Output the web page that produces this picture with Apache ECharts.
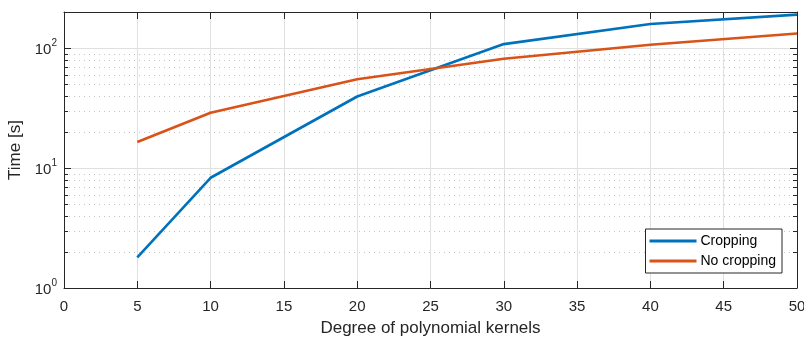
<!DOCTYPE html>
<html><head><meta charset="utf-8">
<script src="https://cdn.jsdelivr.net/npm/echarts@6/dist/echarts.min.js"></script>
<style>html,body{margin:0;padding:0;background:#fff}#c{width:804px;height:339px}</style>
</head><body><div id="c"></div>
<script>
var degrees = [5, 10, 20, 30, 40, 50];
var cropping = [1.8, 8.3, 39.5, 108, 159, 190];
var noCropping = [16.5, 28.9, 55, 81.5, 106.5, 132.5];
var minorValues = [2,3,4,5,6,7,8,9,20,30,40,50,60,70,80,90];
var xTicks = [0,5,10,15,20,25,30,35,40,45,50];

var FONT = '"Liberation Sans", Arial, sans-serif';
var TXT = '#262626';
var chart = echarts.init(document.getElementById('c'), null, {renderer:'canvas'});

function pairs(xs, ys){ return xs.map(function(x,i){return [x, ys[i]];}); }

var supLabel = {
  formatter: function(v){
    var e = Math.round(Math.log10(v));
    if (Math.abs(Math.pow(10,e) - v) > 1e-6) return '';
    return '{b|10}{s|' + e + '}';
  },
  rich: {
    b: {fontSize: 15, fontFamily: FONT, color: TXT, verticalAlign:'bottom'},
    s: {fontSize: 10, fontFamily: FONT, color: TXT, verticalAlign:'top', padding:[0,0,9,0]}
  },
  margin: 7
};

var option = {
  animation: false,
  backgroundColor: '#fff',
  grid: {left: 64, right: 7, top: 12, bottom: 51, containLabel: false, outerBoundsMode: 'none'},
  xAxis: [{
    type: 'value', min: 0, max: 50, interval: 5, position: 'bottom',
    name: 'Degree of polynomial kernels', nameLocation: 'middle', nameGap: 32,
    nameTextStyle: {fontSize: 17, fontFamily: FONT, color: TXT},
    axisLine: {show: true, onZero: false, lineStyle: {color: TXT, width: 1}},
    axisTick: {show: true, inside: true, length: 7, lineStyle: {color: TXT}},
    axisLabel: {fontSize: 15, fontFamily: FONT, color: TXT, margin: 11, hideOverlap: false},
    splitLine: {show: true, lineStyle: {color: '#e0e0e0', width: 1}}
  },{
    type: 'value', min: 0, max: 50, interval: 5, position: 'top',
    axisLine: {show: true, onZero: false, lineStyle: {color: TXT, width: 1}},
    axisTick: {show: true, inside: true, length: 7, lineStyle: {color: TXT}},
    axisLabel: {show: false}, splitLine: {show: false}
  }],
  yAxis: [{
    type: 'log', logBase: 10, min: 1, max: 200, position: 'left',
    name: 'Time [s]', nameLocation: 'middle', nameGap: 35, nameRotate: 90,
    nameTextStyle: {fontSize: 17, fontFamily: FONT, color: TXT},
    axisLine: {show: true, onZero: false, lineStyle: {color: TXT, width: 1}},
    axisTick: {show: true, inside: true, length: 7, lineStyle: {color: TXT}},
    axisLabel: supLabel,
    splitLine: {show: true, lineStyle: {color: '#e0e0e0', width: 1}}
  },{
    type: 'log', logBase: 10, min: 1, max: 200, position: 'right',
    axisLine: {show: true, onZero: false, lineStyle: {color: TXT, width: 1}},
    axisTick: {show: true, inside: true, length: 7, lineStyle: {color: TXT}},
    axisLabel: {show: false}, splitLine: {show: false}
  }],
  legend: {
    right: 22, top: 229, orient: 'vertical', icon: 'rect',
    backgroundColor: '#fff', borderColor: TXT, borderWidth: 1, borderRadius: 0,
    padding: [4, 6, 4, 4], itemGap: 4, itemWidth: 47, itemHeight: 3,
    textStyle: {fontSize: 14, fontFamily: FONT, color: '#000', lineHeight: 16, padding: [0,0,0,-1]},
    data: ['Cropping', 'No cropping']
  },
  series: [{
    type: 'custom', name: 'minor', silent: true, z: 1,
    xAxisIndex: 0, yAxisIndex: 0,
    data: minorValues.map(function(v){return [0, v];}),
    renderItem: function(params, api){
      var p0 = api.coord([0, api.value(1)]);
      var p1 = api.coord([50, api.value(1)]);
      var y = Math.round(p0[1]) + 0.5;
      return {type:'group', children:[
        {type:'line', shape:{x1:p0[0], y1:y, x2:p1[0], y2:y},
         style:{stroke:'#c4c4c4', lineWidth:1, lineDash:[1,4]}},
        {type:'line', shape:{x1:p0[0], y1:y, x2:p0[0]+4, y2:y},
         style:{stroke:TXT, lineWidth:1}},
        {type:'line', shape:{x1:p1[0], y1:y, x2:p1[0]-4, y2:y},
         style:{stroke:TXT, lineWidth:1}}
      ]};
    }
  },{
    name: 'Cropping', type: 'line', data: pairs(degrees, cropping),
    symbol: 'none', lineStyle: {color: '#0072BD', width: 2.6}, itemStyle: {color: '#0072BD'}, z: 3
  },{
    name: 'No cropping', type: 'line', data: pairs(degrees, noCropping),
    symbol: 'none', lineStyle: {color: '#D95319', width: 2.6}, itemStyle: {color: '#D95319'}, z: 3
  }]
};
chart.setOption(option);
</script></body></html>
